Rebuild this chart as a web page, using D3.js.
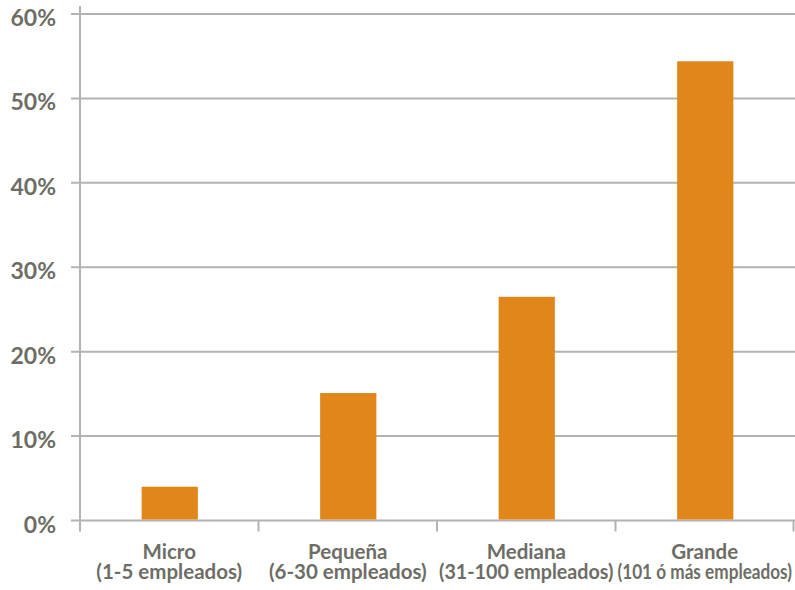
<!DOCTYPE html>
<html>
<head>
<meta charset="utf-8">
<script src="https://cdn.jsdelivr.net/npm/d3@7/dist/d3.min.js"></script>
<style>
  html, body { margin: 0; padding: 0; background: #ffffff; }
  svg { display: block; }
</style>
</head>
<body>
<svg id="chart" width="795" height="590"></svg>
<script>
// Company size categories (two-line labels)
const categories = ["Micro", "Pequeña", "Mediana", "Grande"];
const categorySubLabels = ["(1-5 empleados)", "(6-30 empleados)", "(31-100 empleados)", "(101 ó más empleados)"];
// Share of companies, in percent
const values = [4.0, 15.1, 26.5, 54.4];
// Y-axis ticks
const yTicks = [0, 10, 20, 30, 40, 50, 60];

const W = 795, H = 590;
const margin = { top: 14, right: 1, bottom: 70, left: 80 };
const svg = d3.select("#chart");

const x = d3.scaleBand()
  .domain(categories)
  .range([margin.left, W - margin.right])
  .paddingInner(0)
  .paddingOuter(0);

const y = d3.scaleLinear()
  .domain([0, 60])
  .range([H - margin.bottom + 0.5, margin.top]);

const gridColor = "#b2b2b4";
const textColor = "#6d6d66";
const barColor = "#e0861b";
const fontFamily = "Lato, 'DejaVu Sans', sans-serif";

// Horizontal gridlines with short left ticks
svg.append("g")
  .selectAll("line")
  .data(yTicks)
  .join("line")
  .attr("x1", margin.left - 9)
  .attr("x2", W)
  .attr("y1", d => y(d))
  .attr("y2", d => y(d))
  .attr("stroke", gridColor)
  .attr("stroke-width", 2);

// Y tick labels
svg.append("g")
  .selectAll("text")
  .data(yTicks)
  .join("text")
  .attr("x", 56)
  .attr("y", d => y(d) + 12)
  .attr("text-anchor", "end")
  .attr("fill", textColor)
  .style("font-family", fontFamily)
  .style("font-weight", "700")
  .style("font-size", "23px")
  .text(d => d + "%");

// Bars
const barWidth = x.bandwidth() * 0.315;
svg.append("g")
  .selectAll("rect")
  .data(values)
  .join("rect")
  .attr("x", (d, i) => x(categories[i]) + x.bandwidth() / 2 - barWidth / 2 + 0.5)
  .attr("width", barWidth)
  .attr("y", d => y(d))
  .attr("height", d => y(0) - y(d) - 1)
  .attr("fill", barColor);

// Vertical axis line
svg.append("line")
  .attr("x1", margin.left)
  .attr("x2", margin.left)
  .attr("y1", 6)
  .attr("y2", y(0) + 11)
  .attr("stroke", gridColor)
  .attr("stroke-width", 2);

// Category separator ticks below baseline
const bounds = categories.map(c => x(c) + x.bandwidth());
svg.append("g")
  .selectAll("line")
  .data(bounds)
  .join("line")
  .attr("x1", d => Math.min(d, W - 1.5))
  .attr("x2", d => Math.min(d, W - 1.5))
  .attr("y1", y(0))
  .attr("y2", y(0) + 11)
  .attr("stroke", gridColor)
  .attr("stroke-width", 2);

// Category labels: name on the first line, employee range on the second
const labelG = svg.append("g")
  .attr("fill", textColor)
  .style("font-family", fontFamily)
  .style("font-weight", "700")
  .style("font-size", "20.5px")
  .attr("text-anchor", "middle");

labelG.selectAll("text.name")
  .data(categories)
  .join("text")
  .attr("class", "name")
  .attr("x", d => x(d) + x.bandwidth() / 2)
  .attr("y", 559)
  .text(d => d);

labelG.selectAll("text.range")
  .data(categories)
  .join("text")
  .attr("class", "range")
  .attr("x", d => x(d) + x.bandwidth() / 2)
  .attr("y", 579)
  .text((d, i) => categorySubLabels[i])
  .each(function () {
    // Keep each range label inside its own band
    const maxW = x.bandwidth() - 4;
    const w = this.getComputedTextLength();
    if (w > maxW) {
      d3.select(this)
        .attr("textLength", maxW)
        .attr("lengthAdjust", "spacingAndGlyphs");
    }
  });
</script>
</body>
</html>
